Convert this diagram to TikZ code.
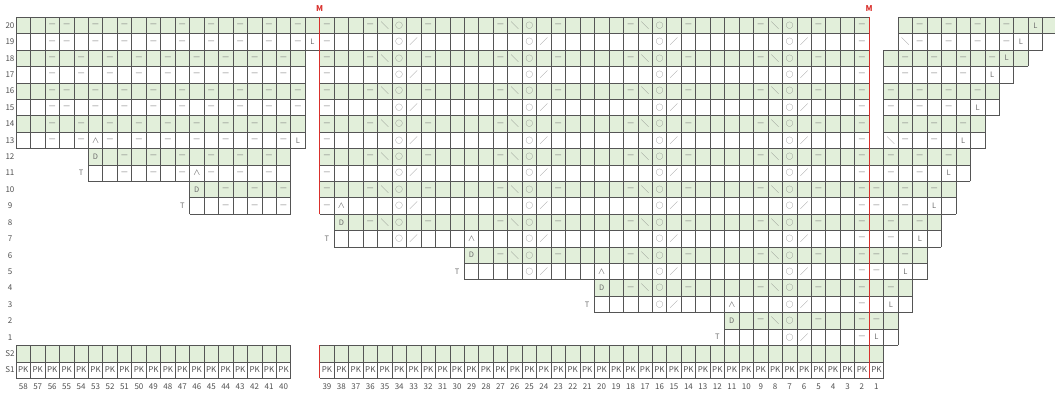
\documentclass[tikz,border=0pt]{standalone}
\usepackage{fontspec}
\setmainfont{Noto Sans CJK JP}
\definecolor{gridgray}{HTML}{555555}
\definecolor{rowgreen}{HTML}{E2EFDA}
\definecolor{markred}{HTML}{D9302C}
\definecolor{stitchgray}{HTML}{6E6E6E}
\definecolor{labelgray}{HTML}{505050}

\begin{document}
\begin{tikzpicture}[x=14.46pt,y=16.41pt,font=\fontsize{8}{9}\selectfont,
    gridln/.style={draw=gridgray,line width=.65pt},
    stitch/.style={inner sep=0pt,text=stitchgray,font=\fontsize{7.5}{9}\selectfont},
    lbl/.style={inner sep=0pt,text=labelgray}]
  \useasboundingbox (-22.11,-1.14) rectangle (50.85,23.05);
  % chart rows: bottom y / first x / last x (odd y = green row)
  \def\rowlist{21/-21/38, 21/40/51, 20/-21/38, 20/40/50,
    19/-21/-1, 19/0/38, 19/39/49, 18/-21/-1, 18/0/38, 18/39/48,
    17/-21/-1, 17/0/38, 17/39/47, 16/-21/-1, 16/0/38, 16/39/47,
    15/-21/-1, 15/0/38, 15/39/46, 14/-21/-1, 14/0/38, 14/39/46,
    13/-16/-2, 13/0/45, 12/-16/-2, 12/0/45, 11/-9/-2, 11/0/44,
    10/-9/-2, 10/0/44, 9/1/43, 8/1/43, 7/10/42, 6/10/42,
    5/19/41, 4/19/41, 3/28/40, 2/28/40,
    1/-21/-2, 1/0/39, 0/-21/-2, 0/0/39}
  \foreach \y/\xs/\xe in \rowlist {
    \ifodd\y\relax \fill[rowgreen] (\xs,\y) rectangle (\xe,\y+1);\fi
  }
  \foreach \y/\xs/\xe in \rowlist {
    \draw[gridln] (\xs,\y) -- (\xe,\y) (\xs,\y+1) -- (\xe,\y+1);
    \foreach \c in {\xs,...,\xe} \draw[gridln] (\c,\y) -- (\c,\y+1);
  }
  % marker lines
  \draw[markred,line width=1.1pt] (0,22) -- (0,10) (0,2) -- (0,0) (38,22) -- (38,0);
  \node[text=markred,font=\fontsize{8}{9}\selectfont\bfseries] (mleft) at (0,22.5) {M};
  \node[text=markred,font=\fontsize{8}{9}\selectfont\bfseries] (mright) at (38,22.5) {M};

  % row and stitch numbers
  \foreach \r in {1,...,20} \node[lbl] (row\r) at (-21.42,\r+1.5) {\r};
  \node[lbl] (rowS2) at (-21.42,1.5) {S2};
  \node[lbl] (rowS1) at (-21.42,.5) {S1};
  \foreach \k in {1,...,39} \node[lbl] (col\k) at (39.5-\k,-.5) {\k};
  \foreach \k in {40,...,58} \node[lbl] (col\k) at (37.5-\k,-.5) {\k};
  \foreach \x in {-21,...,-3} \node[lbl] at (\x+.5,.5) {PK};
  \foreach \x in {0,...,38} \node[lbl] at (\x+.5,.5) {PK};

  % lace panel
  \foreach \y/\s in {21/0,19/0,17/0,15/0,13/0,11/0,9/0,7/1,5/2,3/3}
    \foreach \m in {\s,...,3} {
      \node[stitch] at (3.5+9*\m,\y+.5) {—};
      \node[stitch] at (4.5+9*\m,\y+.5) {╲};
      \node[stitch] at (5.5+9*\m,\y+.5) {○};
      \node[stitch] at (7.5+9*\m,\y+.5) {—};
    }
  \foreach \y/\s in {20/0,18/0,16/0,14/0,12/0,10/0,8/0,6/1,4/2,2/3}
    \foreach \m in {\s,...,3} {
      \node[stitch] at (5.5+9*\m,\y+.5) {○};
      \node[stitch] at (6.5+9*\m,\y+.5) {╱};
    }

  % purl stitches
  \foreach \y in {10,...,21} \node[stitch] at (.5,\y+.5) {—};
  \foreach \y in {2,...,21} \node[stitch] at (37.5,\y+.5) {—};
  \foreach \y in {21,20,17,16}
    \foreach \x in {-18.5,-17.5,-15.5,-13.5,-11.5,-9.5,-7.5,-5.5,-3.5,-1.5}
      \node[stitch] at (\x,\y+.5) {—};
  \foreach \y in {19,18,15,14}
    \foreach \x in {-18.5,-16.5,...,-2.5} \node[stitch] at (\x,\y+.5) {—};
  \foreach \y in {13,12}
    \foreach \x in {-13.5,-11.5,...,-3.5} \node[stitch] at (\x,\y+.5) {—};
  \foreach \y in {11,10}
    \foreach \x in {-6.5,-4.5,-2.5} \node[stitch] at (\x,\y+.5) {—};
  \foreach \y/\x in {21/41.5,21/43.5,21/45.5,21/47.5, 20/41.5,20/43.5,20/45.5,20/47.5,
      19/40.5,19/42.5,19/44.5,19/46.5, 18/40.5,18/42.5,18/44.5,
      17/39.5,17/41.5,17/43.5,17/45.5, 16/39.5,16/41.5,16/43.5,
      15/40.5,15/42.5,15/44.5, 14/40.5,14/42.5,
      13/39.5,13/41.5,13/43.5, 12/39.5,12/41.5,
      11/38.5,11/40.5,11/42.5, 10/38.5,10/40.5,
      9/39.5,9/41.5, 8/39.5, 7/38.5,7/40.5, 6/38.5, 5/39.5, 3/38.5}
    \node[stitch] at (\x,\y+.5) {—};

  % single marks
  \foreach \x/\y/\t in {-0.5/20/L, -1.5/14/L, 49.5/21/L, 48.5/20/L, 47.5/19/L,
      46.5/18/L, 45.5/16/L, 44.5/14/L, 43.5/12/L, 42.5/10/L, 41.5/8/L,
      40.5/6/L, 39.5/4/L, 38.5/2/L,
      40.5/20/╲, 39.5/14/╲,
      1.5/9/D, 10.5/7/D, 19.5/5/D, 28.5/3/D, -8.5/11/D, -15.5/13/D,
      1.5/10/∧, 10.5/8/∧, 19.5/6/∧, 28.5/4/∧, -8.5/12/∧, -15.5/14/∧,
      0.5/8/T, 9.5/6/T, 18.5/4/T, 27.5/2/T, -9.5/10/T, -16.5/12/T}
    \node[stitch] at (\x,\y+.5) {\t};
\end{tikzpicture}
\end{document}
